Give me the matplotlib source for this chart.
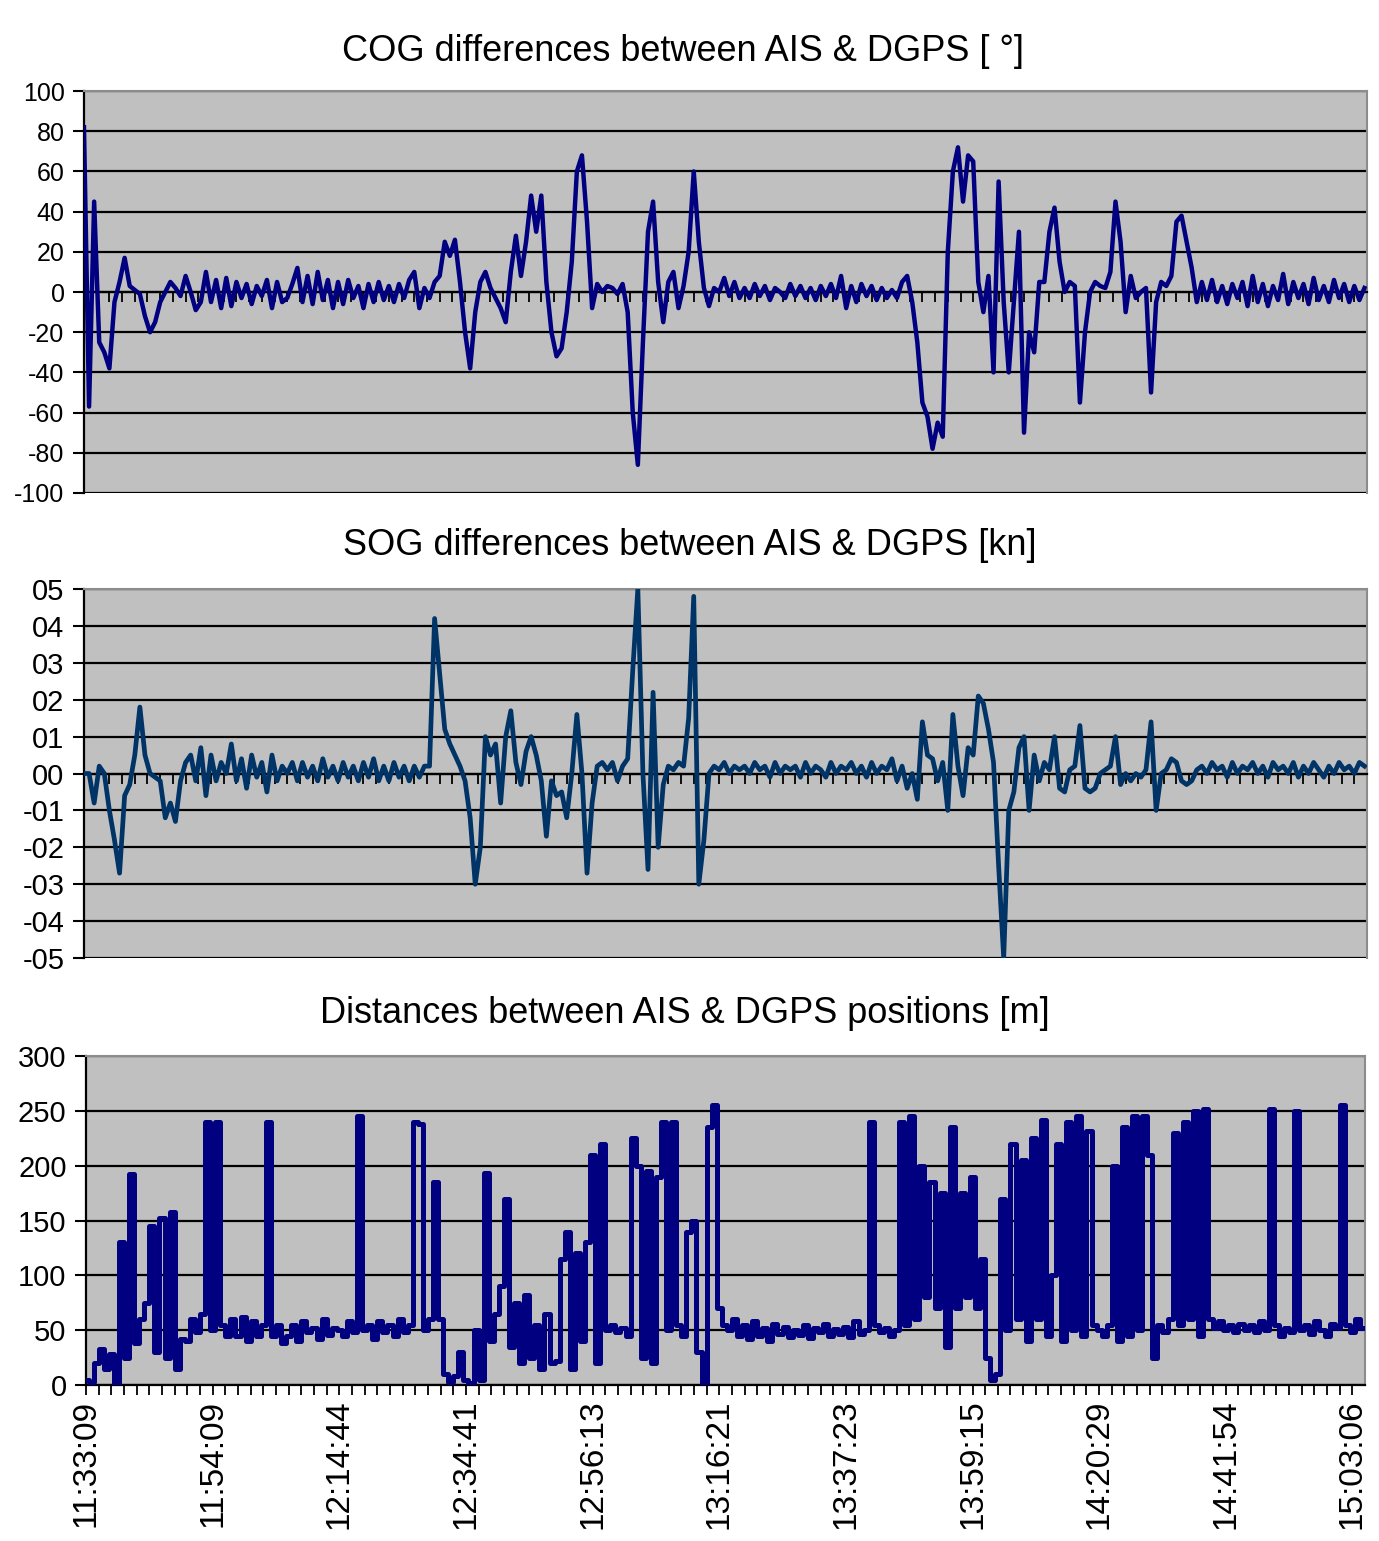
import matplotlib.pyplot as plt
import numpy as np

plt.rcParams['font.family'] = ['Liberation Sans', 'DejaVu Sans']

# samples every 4th record of the log (record index on the category axis)
STEP = 4

time_labels = ["11:33:09", "11:54:09", "12:14:44", "12:34:41", "12:56:13", "13:16:21",
               "13:37:23", "13:59:15", "14:20:29", "14:41:54", "15:03:06"]

# COG difference [deg]
cog = [
    82, -57, 45, -25, -30, -38, -5, 5, 17, 3,
    1, -1, -12, -20, -15, -5, 0, 5, 2, -2,
    8, 0, -9, -5, 10, -5, 6, -8, 7, -7,
    5, -3, 4, -6, 3, -2, 6, -8, 5, -5,
    -3, 4, 12, -5, 8, -6, 10, -4, 6, -8,
    5, -6, 6, -3, 3, -8, 4, -5, 5, -4,
    3, -5, 4, -3, 6, 10, -8, 2, -3, 5,
    8, 25, 18, 26, 5, -20, -38, -10, 5, 10,
    2, -3, -8, -15, 10, 28, 8, 25, 48, 30,
    48, 5, -20, -32, -28, -10, 15, 60, 68, 35,
    -8, 4, 0, 3, 2, -1, 4, -10, -60, -86,
    -25, 30, 45, 5, -15, 5, 10, -8, 3, 20,
    60, 25, 2, -7, 2, 0, 7, -2, 5, -3,
    2, -3, 4, -2, 3, -4, 2, 0, -3, 4,
    -2, 3, -3, 2, -4, 3, -2, 4, -3, 8,
    -8, 3, -5, 4, -2, 3, -4, 2, -3, 1,
    -3, 5, 8, -5, -25, -55, -62, -78, -65, -72,
    20, 60, 72, 45, 68, 65, 5, -10, 8, -40,
    55, -5, -40, -5, 30, -70, -20, -30, 5, 5,
    30, 42, 15, 0, 5, 3, -55, -20, 0, 5,
    3, 2, 10, 45, 25, -10, 8, -3, 0, 2,
    -50, -5, 5, 3, 8, 35, 38, 25, 12, -5,
    5, -4, 6, -5, 3, -6, 4, -3, 5, -7,
    8, -5, 4, -7, 3, -4, 9, -6, 5, -3,
    4, -6, 7, -4, 3, -5, 6, -3, 4, -5,
    3, -4, 2,
]

# SOG difference [kn]
sog = [
    0.0, 0.0, -0.08, 0.02, 0.0, -0.1, -0.18, -0.27, -0.06, -0.03,
    0.05, 0.18, 0.05, 0.0, -0.01, -0.02, -0.12, -0.08, -0.13, -0.02,
    0.03, 0.05, -0.02, 0.07, -0.06, 0.05, -0.02, 0.03, 0.0, 0.08,
    -0.02, 0.04, -0.04, 0.05, -0.01, 0.03, -0.05, 0.05, -0.02, 0.02,
    0.0, 0.03, -0.02, 0.03, -0.01, 0.02, -0.02, 0.04, -0.01, 0.02,
    -0.02, 0.03, -0.01, 0.02, -0.02, 0.03, -0.01, 0.04, -0.02, 0.02,
    -0.02, 0.03, -0.01, 0.02, -0.02, 0.02, -0.01, 0.02, 0.02, 0.42,
    0.27, 0.12, 0.08, 0.05, 0.02, -0.02, -0.12, -0.3, -0.2, 0.1,
    0.05, 0.08, -0.08, 0.1, 0.17, 0.03, -0.03, 0.06, 0.1, 0.05,
    -0.02, -0.17, -0.02, -0.06, -0.05, -0.12, 0.0, 0.16, 0.0, -0.27,
    -0.08, 0.02, 0.03, 0.01, 0.03, -0.02, 0.02, 0.04, 0.28, 0.5,
    0.0, -0.26, 0.22, -0.2, -0.03, 0.02, 0.01, 0.03, 0.02, 0.15,
    0.48, -0.3, -0.18, 0.0, 0.02, 0.01, 0.03, 0.0, 0.02, 0.01,
    0.02, 0.0, 0.03, 0.01, 0.02, -0.01, 0.03, 0.0, 0.02, 0.01,
    0.02, -0.01, 0.03, 0.0, 0.02, 0.01, -0.01, 0.03, 0.0, 0.02,
    0.01, 0.03, 0.0, 0.02, -0.01, 0.03, 0.0, 0.02, 0.01, 0.04,
    -0.02, 0.02, -0.04, 0.0, -0.07, 0.14, 0.05, 0.04, -0.02, 0.03,
    -0.1, 0.16, 0.02, -0.06, 0.07, 0.05, 0.21, 0.19, 0.12, 0.03,
    -0.25, -0.5, -0.1, -0.05, 0.07, 0.1, -0.1, 0.05, -0.02, 0.03,
    0.01, 0.1, -0.04, -0.05, 0.01, 0.02, 0.13, -0.04, -0.05, -0.04,
    0.0, 0.01, 0.02, 0.1, -0.03, 0.0, -0.02, 0.0, -0.01, 0.01,
    0.14, -0.1, 0.0, 0.01, 0.04, 0.03, -0.02, -0.03, -0.02, 0.01,
    0.02, 0.0, 0.03, 0.01, 0.02, -0.01, 0.03, 0.0, 0.02, 0.01,
    0.03, 0.0, 0.02, -0.01, 0.03, 0.01, 0.02, 0.0, 0.03, -0.01,
    0.02, 0.0, 0.03, 0.01, -0.01, 0.02, 0.0, 0.03, 0.01, 0.02,
    0.0, 0.03, 0.02,
]

# distance between AIS and DGPS positions [m]
dist = [
    5, 3, 20, 33, 15, 28, 2, 130, 25, 192,
    38, 60, 75, 145, 30, 152, 25, 158, 15, 42,
    40, 60, 48, 65, 240, 50, 240, 55, 45, 60,
    45, 62, 40, 58, 45, 55, 240, 45, 55, 38,
    45, 55, 40, 58, 48, 52, 42, 60, 46, 52,
    50, 45, 58, 48, 245, 50, 55, 42, 58, 48,
    55, 45, 60, 48, 55, 240, 238, 50, 60, 185,
    60, 10, 3, 8, 30, 5, 2, 50, 5, 193,
    40, 65, 90, 170, 35, 75, 20, 82, 25, 55,
    15, 65, 20, 22, 115, 140, 15, 120, 40, 130,
    210, 20, 220, 50, 55, 48, 52, 45, 225, 200,
    25, 195, 20, 190, 240, 50, 240, 55, 45, 140,
    150, 30, 2, 235, 255, 70, 55, 50, 60, 45,
    55, 42, 58, 45, 52, 40, 56, 47, 53, 44,
    50, 46, 55, 43, 52, 48, 56, 45, 51, 47,
    53, 44, 58, 47, 50, 240, 55, 48, 52, 45,
    50, 240, 55, 245, 60, 200, 80, 185, 70, 175,
    35, 235, 70, 175, 80, 190, 70, 115, 25, 5,
    10, 170, 50, 220, 60, 205, 40, 225, 60, 242,
    45, 100, 220, 40, 240, 50, 245, 45, 232, 55,
    50, 45, 55, 200, 40, 235, 45, 245, 50, 245,
    210, 25, 55, 48, 60, 230, 55, 240, 60, 250,
    45, 252, 60, 52, 58, 50, 55, 48, 56, 50,
    55, 48, 58, 50, 252, 55, 45, 52, 48, 250,
    50, 55, 47, 58, 50, 45, 56, 52, 255, 55,
    48, 60, 52,
]

cog_ticks = [100, 80, 60, 40, 20, 0, -20, -40, -60, -80, -100]
sog_ticks = [0.5, 0.4, 0.3, 0.2, 0.1, 0.0, -0.1, -0.2, -0.3, -0.4, -0.5]
sog_tick_labels = ["05", "04", "03", "02", "01", "00", "-01", "-02", "-03", "-04", "-05"]
dist_ticks = [0, 50, 100, 150, 200, 250, 300]

N_CAT = 1010
x = np.arange(len(cog)) * STEP


def style(ax, yticks, ylabels, ysize):
    ax.set_facecolor("#c0c0c0")
    ax.set_xlim(0, N_CAT)
    ax.set_ylim(min(yticks), max(yticks))
    ax.set_yticks(yticks)
    ax.set_yticklabels(ylabels, fontsize=ysize)
    ax.grid(axis="y", color="black", lw=1.6)
    ax.set_axisbelow(True)
    for s in ["top", "right"]:
        ax.spines[s].set_color("#8c8c8c")
        ax.spines[s].set_linewidth(1.5)
    ax.spines["left"].set_linewidth(1.6)
    ax.tick_params(axis="y", direction="out", length=8, width=1.5, pad=6)
    ax.set_xticks(np.arange(0, 1001, 10))
    ax.tick_params(axis="x", direction="out", length=7, width=1.3)


fig = plt.figure(figsize=(13.79, 15.41), dpi=100)

ax1 = fig.add_axes([0.0609, 0.6801, 0.9304, 0.2608])
ax1.plot(x, cog, color="#000080", lw=3.2, zorder=3)
style(ax1, cog_ticks, [str(t) for t in cog_ticks], 18)
ax1.spines["bottom"].set_position(("data", 0))
ax1.spines["bottom"].set_linewidth(1.6)
ax1.tick_params(axis="x", labelbottom=False)

ax2 = fig.add_axes([0.0609, 0.3783, 0.9304, 0.2395])
ax2.plot(x, sog, color="#003366", lw=3.4, zorder=3)
style(ax2, sog_ticks, sog_tick_labels, 21)
ax2.set_ylim(-0.5, 0.5)
ax2.spines["bottom"].set_position(("data", 0))
ax2.spines["bottom"].set_linewidth(1.6)
ax2.tick_params(axis="x", labelbottom=False)

ax3 = fig.add_axes([0.0624, 0.1012, 0.9275, 0.2135])
ax3.plot(x, dist, color="#000080", lw=3.6, drawstyle="steps-mid", zorder=3)
style(ax3, dist_ticks, [str(t) for t in dist_ticks], 21)
ax3.spines["bottom"].set_linewidth(1.6)
xt_labels = [time_labels[i // 10] if i % 10 == 0 else "" for i in range(101)]
ax3.set_xticklabels(xt_labels, rotation=90, fontsize=24, va="top")

fig.text(0.495, 0.9663, "COG differences between AIS & DGPS [ °]", ha="center", va="center", fontsize=26)
fig.text(0.500, 0.6457, "SOG differences between AIS & DGPS [kn]", ha="center", va="center", fontsize=26)
fig.text(0.497, 0.3426, "Distances between AIS & DGPS positions [m]", ha="center", va="center", fontsize=26)

fig.savefig("out.png", dpi=100, facecolor="white")
